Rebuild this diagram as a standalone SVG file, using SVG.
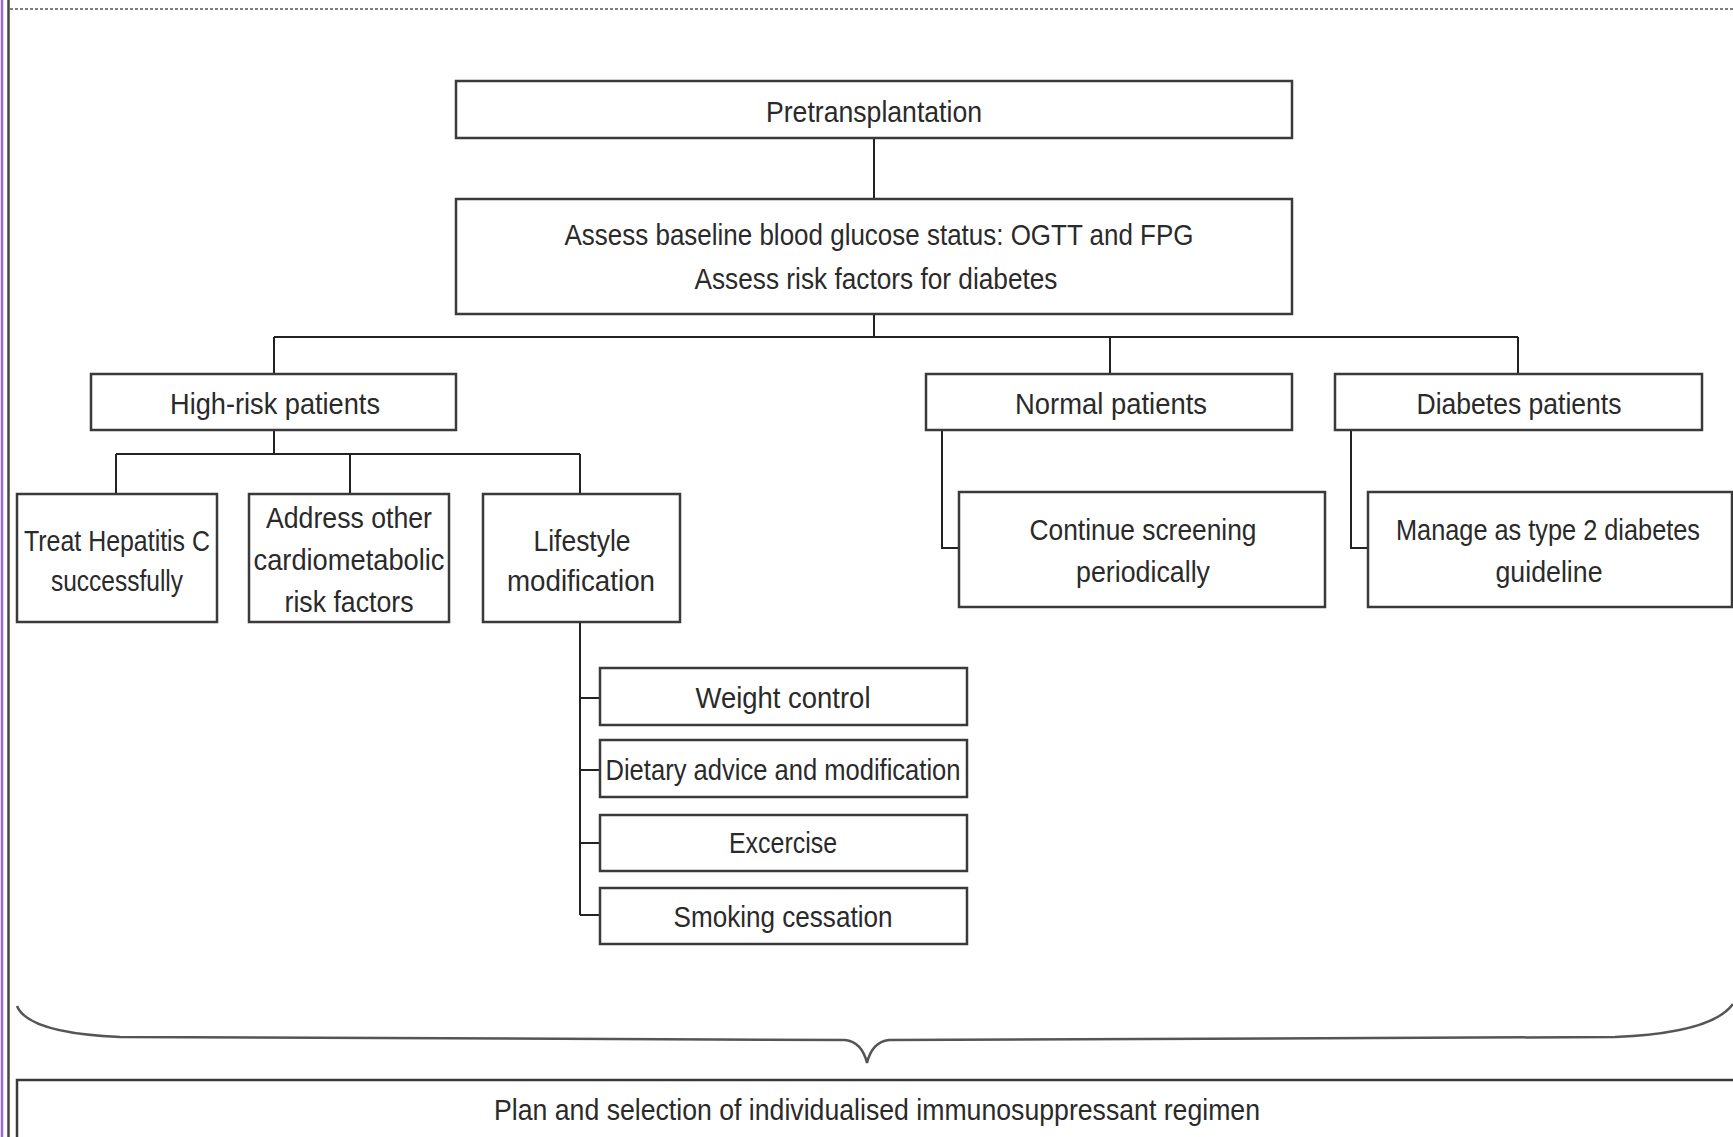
<svg xmlns="http://www.w3.org/2000/svg" width="1733" height="1137" viewBox="0 0 1733 1137">
<style>
.box{fill:#fff;stroke:#3a3a3a;stroke-width:2.5}
.ln{fill:none;stroke:#222;stroke-width:2}
text{font-family:"Liberation Sans",Arial,sans-serif;font-size:29px;fill:#2a2a2a;text-anchor:middle}
</style>
<rect width="1733" height="1137" fill="#fff"/>
<line x1="2" y1="0" x2="2" y2="1137" stroke="#9a6ad4" stroke-width="2.5"/>
<line x1="8.5" y1="0" x2="8.5" y2="1137" stroke="#444" stroke-width="2.5"/>
<line x1="10" y1="9" x2="1733" y2="9" stroke="#555" stroke-width="1.5" stroke-dasharray="3 2"/>
<g id="connectors">
<path class="ln" d="M874,138 V199"/>
<path class="ln" d="M874,314 V337 M274,337 H1518 M274,337 V374 M1110,337 V374 M1518,337 V374"/>
<path class="ln" d="M274,430 V454 M116,454 H580 M116,454 V494 M350,454 V494 M580,454 V494"/>
<path class="ln" d="M942,430 V548 H959"/>
<path class="ln" d="M1351,430 V548 H1368"/>
<path class="ln" d="M580,622 V915 M580,698 H600 M580,770 H600 M580,843 H600 M580,915 H600"/>
<path d="M17,1006 Q28,1033 120,1037 L845,1040 Q862,1042 867,1063 Q872,1042 889,1040 L1615,1037 Q1712,1033 1733,1004" fill="none" stroke="#555" stroke-width="2.5"/>
</g>
<g id="pretransplantation"><rect class="box" x="456" y="81" width="836" height="57"/><text x="874" y="122" textLength="216" lengthAdjust="spacingAndGlyphs">Pretransplantation</text></g>
<g id="assess"><rect class="box" x="456" y="199" width="836" height="115"/><text x="879" y="245" textLength="629" lengthAdjust="spacingAndGlyphs">Assess baseline blood glucose status: OGTT and FPG</text><text x="876" y="289" textLength="363" lengthAdjust="spacingAndGlyphs">Assess risk factors for diabetes</text></g>
<g id="high-risk"><rect class="box" x="91" y="374" width="365" height="56"/><text x="275" y="414" textLength="210" lengthAdjust="spacingAndGlyphs">High-risk patients</text></g>
<g id="normal"><rect class="box" x="926" y="374" width="366" height="56"/><text x="1111" y="414" textLength="192" lengthAdjust="spacingAndGlyphs">Normal patients</text></g>
<g id="diabetes"><rect class="box" x="1335" y="374" width="367" height="56"/><text x="1519" y="414" textLength="205" lengthAdjust="spacingAndGlyphs">Diabetes patients</text></g>
<g id="treat-hepc"><rect class="box" x="17" y="494" width="200" height="128"/><text x="117" y="551" textLength="186" lengthAdjust="spacingAndGlyphs">Treat Hepatitis C</text><text x="117" y="591" textLength="132" lengthAdjust="spacingAndGlyphs">successfully</text></g>
<g id="address"><rect class="box" x="249" y="494" width="200" height="128"/><text x="349" y="528" textLength="166" lengthAdjust="spacingAndGlyphs">Address other</text><text x="349" y="570" textLength="191" lengthAdjust="spacingAndGlyphs">cardiometabolic</text><text x="349" y="612" textLength="129" lengthAdjust="spacingAndGlyphs">risk factors</text></g>
<g id="lifestyle"><rect class="box" x="483" y="494" width="197" height="128"/><text x="582" y="551" textLength="97" lengthAdjust="spacingAndGlyphs">Lifestyle</text><text x="581" y="591" textLength="148" lengthAdjust="spacingAndGlyphs">modification</text></g>
<g id="continue"><rect class="box" x="959" y="492" width="366" height="115"/><text x="1143" y="540" textLength="227" lengthAdjust="spacingAndGlyphs">Continue screening</text><text x="1143" y="582" textLength="134" lengthAdjust="spacingAndGlyphs">periodically</text></g>
<g id="manage"><rect class="box" x="1368" y="492" width="364" height="115"/><text x="1548" y="540" font-size="27" textLength="304" lengthAdjust="spacingAndGlyphs">Manage as type 2 diabetes</text><text x="1549" y="582" textLength="107" lengthAdjust="spacingAndGlyphs">guideline</text></g>
<g id="weight"><rect class="box" x="600" y="668" width="367" height="57"/><text x="783" y="708" textLength="175" lengthAdjust="spacingAndGlyphs">Weight control</text></g>
<g id="dietary"><rect class="box" x="600" y="740" width="367" height="57"/><text x="783" y="780" textLength="355" lengthAdjust="spacingAndGlyphs">Dietary advice and modification</text></g>
<g id="exercise"><rect class="box" x="600" y="815" width="367" height="56"/><text x="783" y="853" textLength="108" lengthAdjust="spacingAndGlyphs">Excercise</text></g>
<g id="smoking"><rect class="box" x="600" y="888" width="367" height="56"/><text x="783" y="927" textLength="219" lengthAdjust="spacingAndGlyphs">Smoking cessation</text></g>
<g id="plan"><rect class="box" x="17" y="1080" width="1720" height="60"/><text x="877" y="1120" textLength="766" lengthAdjust="spacingAndGlyphs">Plan and selection of individualised immunosuppressant regimen</text></g>
</svg>
